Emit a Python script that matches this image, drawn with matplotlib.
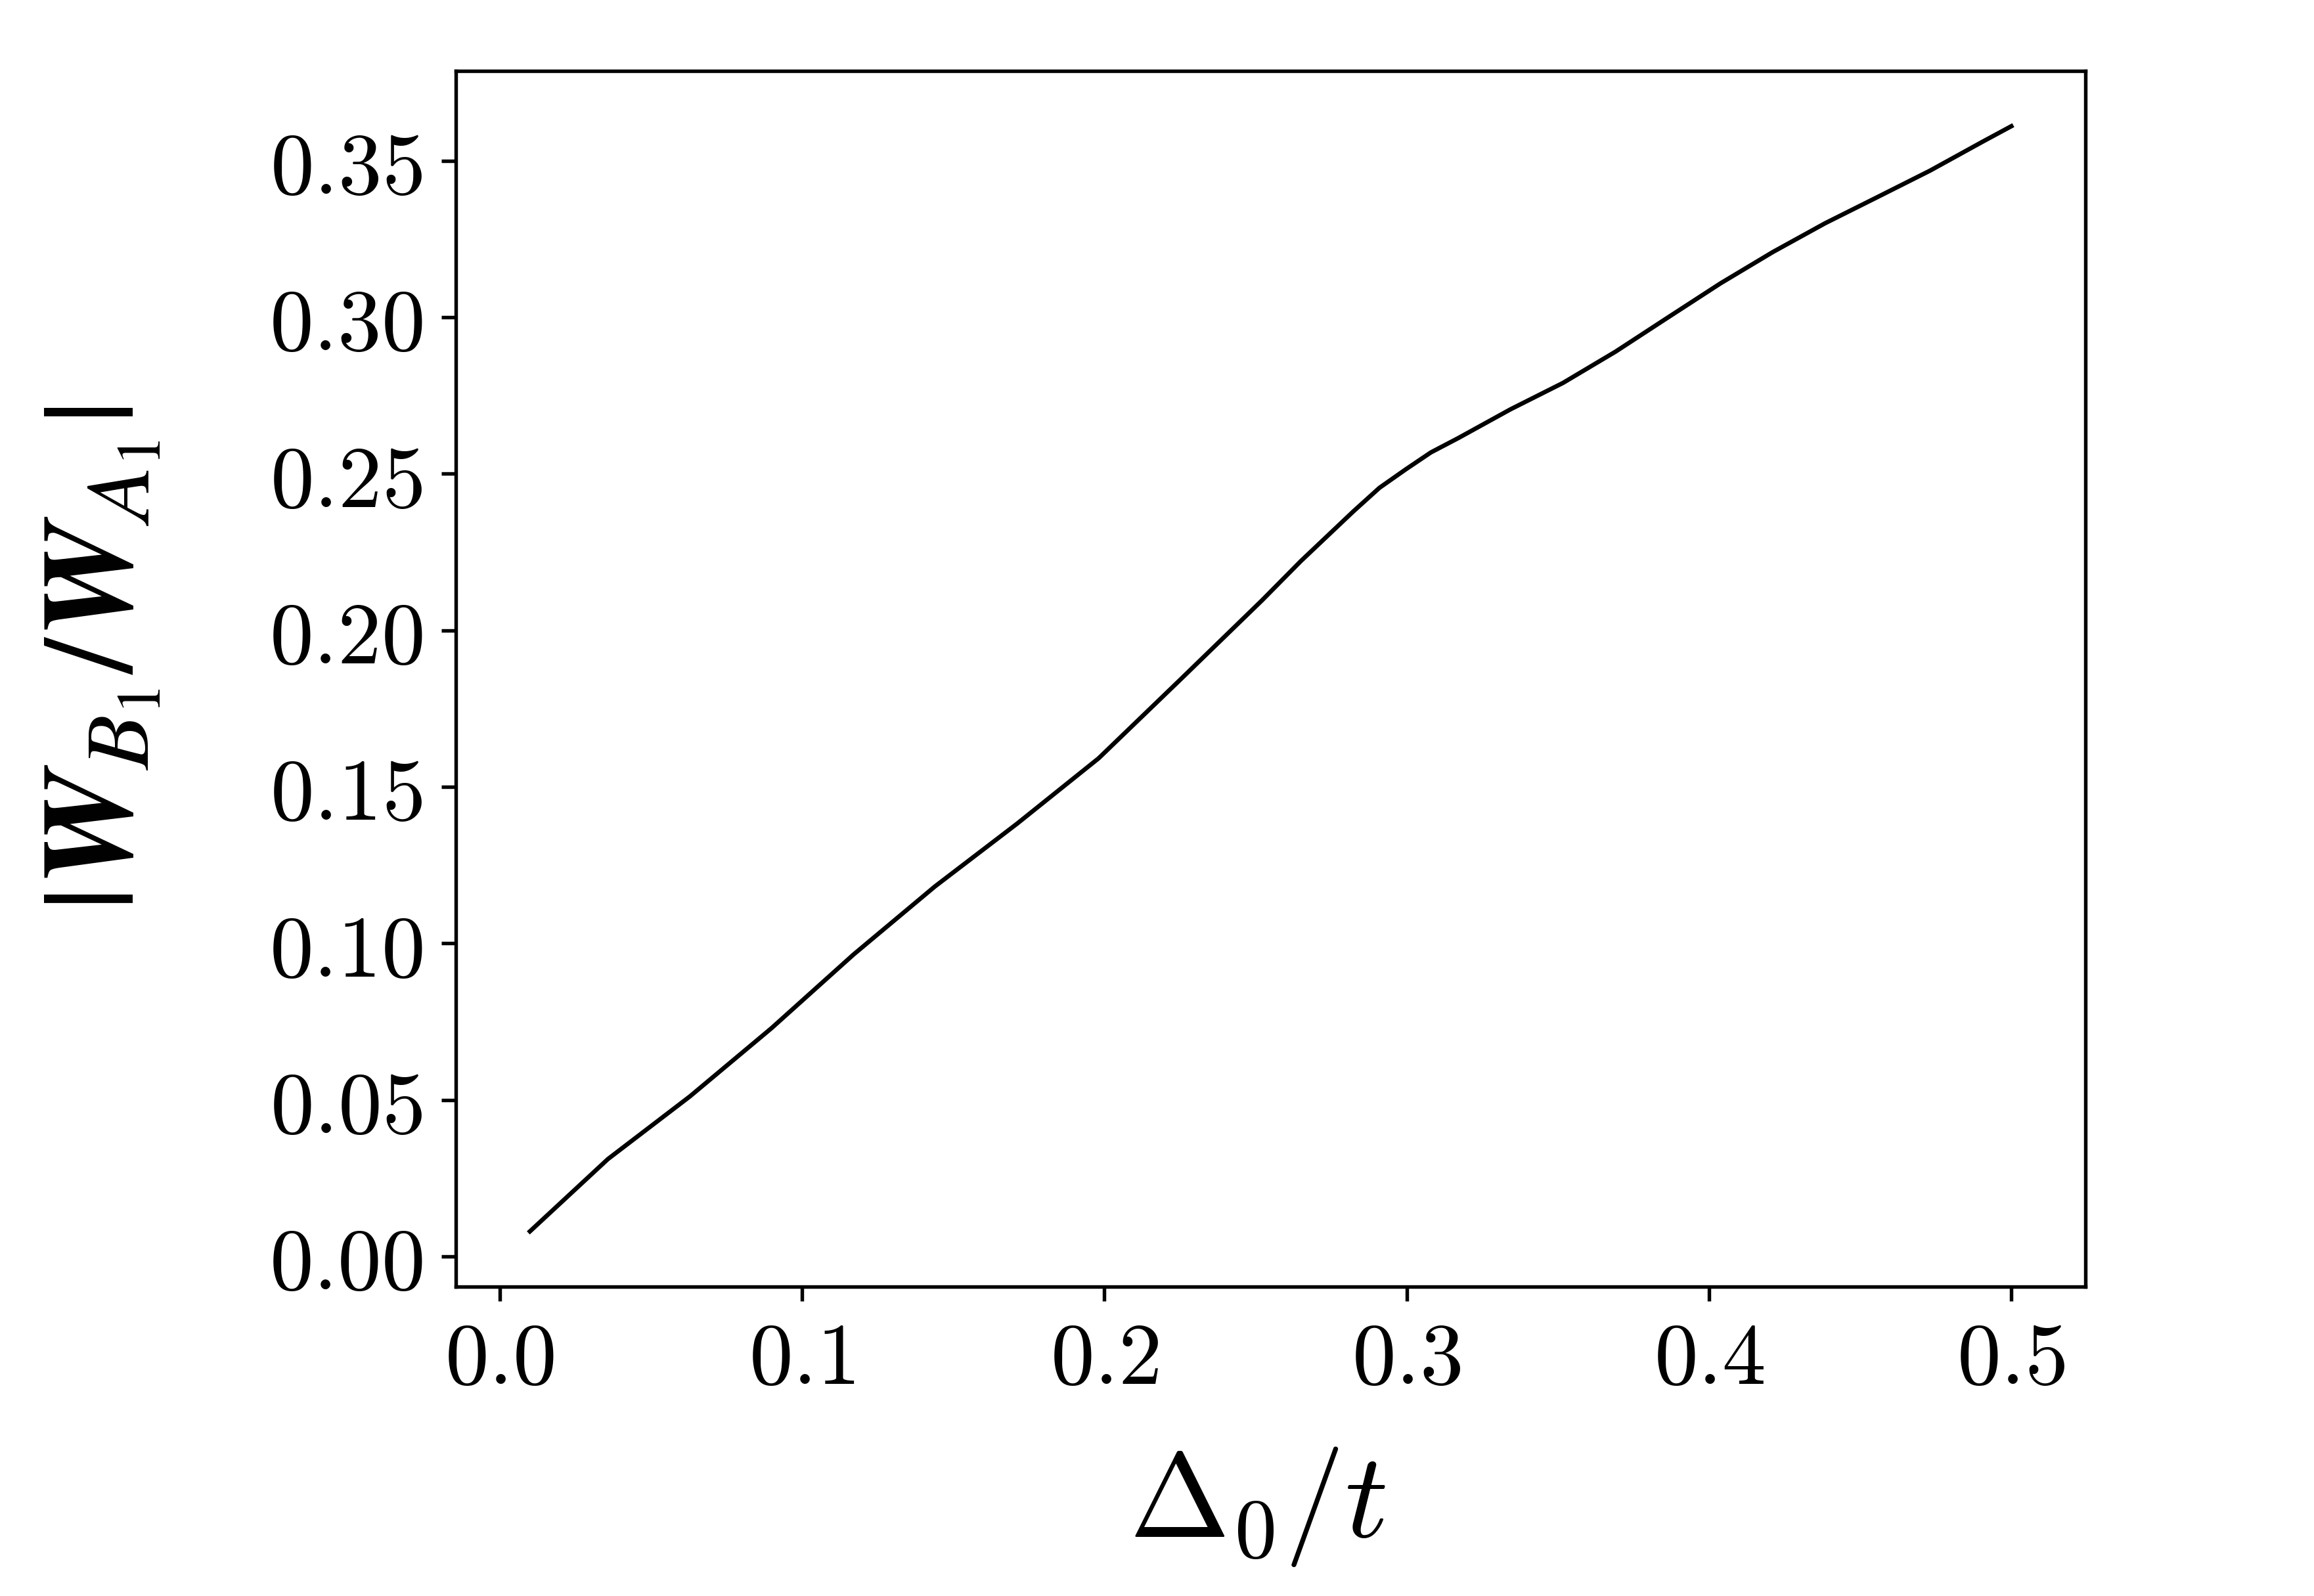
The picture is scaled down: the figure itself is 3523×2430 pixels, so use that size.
import matplotlib
matplotlib.use("Agg")
import matplotlib.pyplot as plt
from matplotlib.ticker import FormatStrFormatter, MultipleLocator

plt.rcParams['mathtext.fontset'] = 'cm'
plt.rcParams['font.family'] = ['DejaVu Serif']

delta0 = [0.01, 0.0358, 0.0629, 0.0899, 0.1170, 0.1440, 0.1711, 0.1981, 0.2252,
          0.2522, 0.2650, 0.2824, 0.2910, 0.2997, 0.3080, 0.3171, 0.3344, 0.3517,
          0.3691, 0.3864, 0.4038, 0.4211, 0.4384, 0.4558, 0.4731, 0.4904, 0.5]
ratio = [0.0080, 0.0311, 0.0511, 0.0729, 0.0964, 0.1182, 0.1382, 0.1591, 0.1843,
         0.2096, 0.2221, 0.2380, 0.2455, 0.2514, 0.2568, 0.2614, 0.2706, 0.2790,
         0.2890, 0.2999, 0.3108, 0.3208, 0.3300, 0.3384, 0.3468, 0.3560, 0.3610]

W, H = 3523, 2430
fig = plt.figure(figsize=(W / 300, H / 300), dpi=300)
ax = fig.add_axes([694 / W, 1 - 1959 / H, 2481 / W, 1851 / H])

ax.plot(delta0, ratio, color='black', lw=1.6, solid_joinstyle='round')

ax.xaxis.set_major_locator(MultipleLocator(0.1))
ax.yaxis.set_major_locator(MultipleLocator(0.05))
ax.xaxis.set_major_formatter(FormatStrFormatter(r'$%.1f$'))
ax.yaxis.set_major_formatter(FormatStrFormatter(r'$%.2f$'))
ax.tick_params(axis='both', which='major', labelsize=32, length=5.2, width=1.3,
               direction='out', color='black')
ax.tick_params(axis='x', pad=6)
ax.tick_params(axis='y', pad=7)
for s in ax.spines.values():
    s.set_linewidth(1.3)

ax.set_xlabel(r'$\Delta_0/t$', fontsize=44)
ax.xaxis.set_label_coords(0.492, -0.13)

ok = False
try:
    ax.set_ylabel(r'$|\mathbfit{W}_{B_1}/\mathbfit{W}_{A_1}|$', fontsize=47,
                  math_fontfamily='stix')
    fig.canvas.draw()
    ok = True
except Exception:
    ok = False
if not ok:
    ax.set_ylabel(r'$|\boldsymbol{W}_{B_1}/\boldsymbol{W}_{A_1}|$', fontsize=44,
                  math_fontfamily='cm')
ax.yaxis.set_label_coords(-0.18, 0.5165)

fig.savefig('out.png', dpi=300)
